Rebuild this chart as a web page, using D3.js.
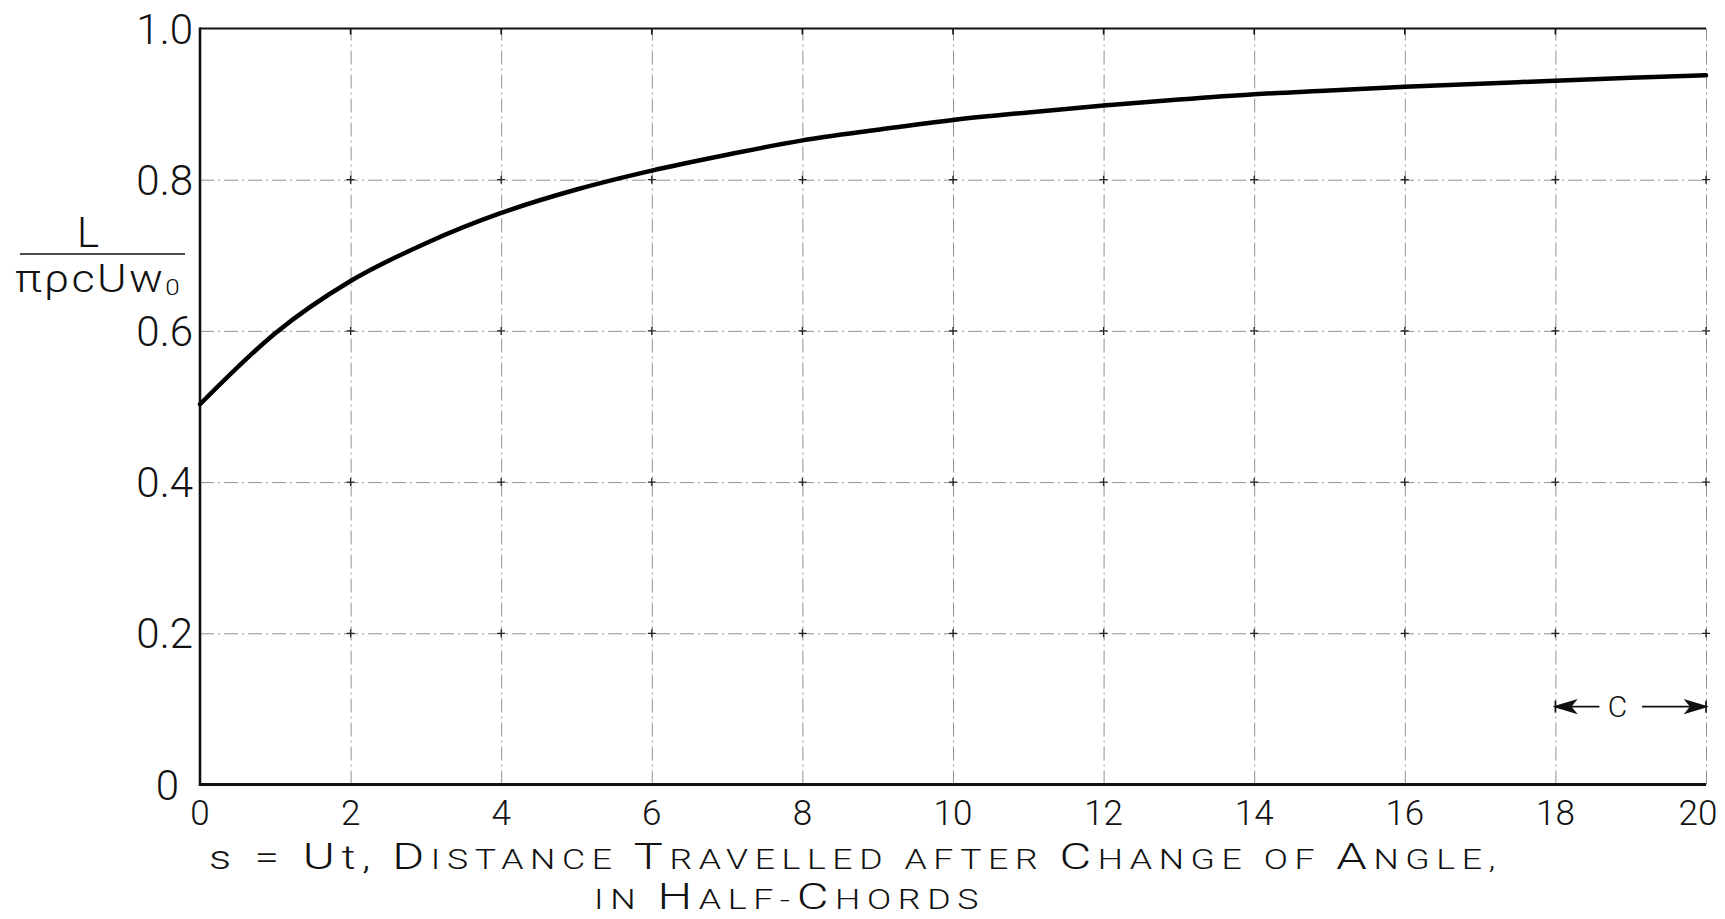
<!DOCTYPE html>
<html>
<head>
<meta charset="utf-8">
<script src="https://cdn.jsdelivr.net/npm/d3@7/dist/d3.min.js"></script>
<style>
  html, body { margin: 0; padding: 0; background: #fff; }
  svg { display: block; }
  text { font-family: Roboto, "Liberation Sans", sans-serif; font-weight: 300; fill: #111; }
</style>
</head>
<body>
<svg id="chart" width="1725" height="919"></svg>
<script>
// ---- data ----
const sValues = [0, 1, 2, 3, 4, 5, 6, 7, 8, 9, 10, 11, 12, 13, 14, 15, 16, 17, 18, 19, 20];
const liftValues = [0.503, 0.597, 0.666, 0.716, 0.756, 0.787, 0.812, 0.833, 0.852, 0.866, 0.879, 0.889, 0.898, 0.906, 0.913, 0.918, 0.923, 0.927, 0.931, 0.935, 0.938];
const xTicks = [0, 2, 4, 6, 8, 10, 12, 14, 16, 18, 20];
const xTickLabels = ["0", "2", "4", "6", "8", "10", "12", "14", "16", "18", "20"];
const yTicks = [0, 0.2, 0.4, 0.6, 0.8, 1.0];
const yTickLabels = ["0", "0.2", "0.4", "0.6", "0.8", "1.0"];
const chordSpan = [18, 20];
const chordLevel = [0.103];
const chordLabel = ["c"];
const yLabelNumerator = "L";
const yLabelDenominator = "\u03C0\u03C1cUw";
const yLabelSub = "0";
const xTitleLine1 = "s = Ut,  Distance Travelled after Change of Angle,";
const xTitleLine2 = "in Half-Chords";

(function () {
// ---- layout ----
const svg = d3.select("#chart");
const W = 1725, H = 919;
const mLeft = 200, mRight = 1706, mTop = 28.5, mBottom = 784.5;

const x = d3.scaleLinear().domain([0, 20]).range([mLeft, mRight]);
const y = d3.scaleLinear().domain([0, 1]).range([mBottom, mTop]);

svg.append("rect").attr("width", W).attr("height", H).attr("fill", "#fff");

// grid (dash-dot)
const gridStyle = g => g.selectAll("line")
  .attr("stroke", "#555").attr("stroke-width", 1)
  .attr("stroke-dasharray", "14,4,2,4").attr("opacity", 0.65);

svg.append("g")
  .attr("transform", `translate(0,${mBottom})`)
  .call(d3.axisBottom(x).tickValues(xTicks.slice(1)).tickSize(-(mBottom - mTop)).tickFormat(""))
  .call(g => g.select(".domain").remove())
  .call(gridStyle);

svg.append("g")
  .attr("transform", `translate(${mLeft},0)`)
  .call(d3.axisLeft(y).tickValues(yTicks.slice(1, -1)).tickSize(-(mRight - mLeft)).tickFormat(""))
  .call(g => g.select(".domain").remove())
  .call(gridStyle);

// small crosses at intersections
const crosses = [];
xTicks.slice(1).forEach(xv => yTicks.slice(1, -1).forEach(yv => crosses.push([xv, yv])));
svg.append("g").selectAll("path").data(crosses).join("path")
  .attr("d", d => `M${x(d[0]) - 4},${y(d[1])}h8M${x(d[0])},${y(d[1]) - 4}v8`)
  .attr("stroke", "#222").attr("stroke-width", 1.3);

// frame: top, left, bottom solid
svg.append("line").attr("x1", x(0)).attr("x2", x(20)).attr("y1", y(1)).attr("y2", y(1))
  .attr("stroke", "#111").attr("stroke-width", 2);
svg.append("line").attr("x1", x(0)).attr("x2", x(0)).attr("y1", y(1) - 1).attr("y2", y(0) + 1.5)
  .attr("stroke", "#111").attr("stroke-width", 2.6);
svg.append("line").attr("x1", x(0) - 1).attr("x2", x(20)).attr("y1", y(0)).attr("y2", y(0))
  .attr("stroke", "#111").attr("stroke-width", 3);
svg.append("g").selectAll("line").data(xTicks.slice(1, -1)).join("line")
  .attr("x1", d => x(d)).attr("x2", d => x(d)).attr("y1", y(1)).attr("y2", y(1) + 6)
  .attr("stroke", "#111").attr("stroke-width", 1.6);

// tick labels
svg.append("g").selectAll("text").data(yTicks).join("text")
  .attr("x", (d, i) => i === 0 ? mLeft - 21 : mLeft - 7)
  .attr("y", d => y(d))
  .attr("dy", "0.36em")
  .attr("text-anchor", "end")
  .attr("font-size", 42)
  .text((d, i) => yTickLabels[i]);

svg.append("g").selectAll("text").data(xTicks).join("text")
  .attr("x", (d, i) => x(d) - (i === xTicks.length - 1 ? 8 : 0))
  .attr("y", mBottom + 40)
  .attr("text-anchor", "middle")
  .attr("font-size", 35)
  .text((d, i) => xTickLabels[i]);

// y-axis label as fraction
svg.append("text").attr("x", 88).attr("y", 247).attr("text-anchor", "middle")
  .attr("font-size", 42).text(yLabelNumerator);
svg.append("line").attr("x1", 20).attr("x2", 185).attr("y1", 254).attr("y2", 254)
  .attr("stroke", "#111").attr("stroke-width", 1.6);
const den = svg.append("text").attr("x", 15).attr("y", 292).attr("font-size", 38)
  .attr("letter-spacing", 2).attr("textLength", 167).attr("lengthAdjust", "spacingAndGlyphs");
den.append("tspan").text(yLabelDenominator);
den.append("tspan").attr("font-size", 22).attr("dy", 3).text(yLabelSub);

// curve
const line = d3.line().x((d, i) => x(sValues[i])).y(d => y(d)).curve(d3.curveMonotoneX);
svg.append("path").datum(liftValues).attr("d", line)
  .attr("fill", "none").attr("stroke", "#000").attr("stroke-width", 4.5)
  .attr("stroke-linecap", "round");

// chord annotation
const cy = y(chordLevel[0]);
const cx0 = x(chordSpan[0]), cx1 = x(chordSpan[1]);
const ann = svg.append("g").attr("stroke", "#111").attr("stroke-width", 1.6);
ann.append("line").attr("x1", cx0).attr("x2", cx0 + 44).attr("y1", cy).attr("y2", cy);
ann.append("line").attr("x1", cx1 - 64).attr("x2", cx1).attr("y1", cy).attr("y2", cy);
ann.append("line").attr("x1", cx0).attr("x2", cx0).attr("y1", cy - 6).attr("y2", cy + 6);
ann.append("line").attr("x1", cx1).attr("x2", cx1).attr("y1", cy - 6).attr("y2", cy + 6);
ann.append("path").attr("d", `M${cx0},${cy}l20,-6l-5,6l5,6z`).attr("fill", "#111");
ann.append("path").attr("d", `M${cx1},${cy}l-20,-6l5,6l-5,6z`).attr("fill", "#111");
svg.append("text").attr("x", cx0 + 62).attr("y", cy).attr("dy", "0.36em")
  .attr("text-anchor", "middle").attr("font-size", 30).text(chordLabel[0].toUpperCase());

// x-axis title in hand-lettered small caps
function smallCaps(textEl, str, big, small, keepLowerUntil) {
  [...str].forEach((ch, i) => {
    const isUpper = ch !== ch.toLowerCase();
    if (i < keepLowerUntil) {
      textEl.append("tspan").attr("font-size", isUpper ? big : small + 6).text(ch);
    } else {
      textEl.append("tspan").attr("font-size", isUpper ? big : small).text(ch.toUpperCase());
    }
  });
}
const t1 = svg.append("text").attr("x", 209).attr("y", 869)
  .attr("letter-spacing", 5)
  .attr("textLength", 1293).attr("lengthAdjust", "spacingAndGlyphs");
smallCaps(t1, xTitleLine1, 37, 27, 7);
const t2 = svg.append("text").attr("x", 594).attr("y", 909)
  .attr("letter-spacing", 5)
  .attr("textLength", 391).attr("lengthAdjust", "spacingAndGlyphs");
smallCaps(t2, xTitleLine2, 37, 27, 0);
})();
</script>
</body>
</html>
